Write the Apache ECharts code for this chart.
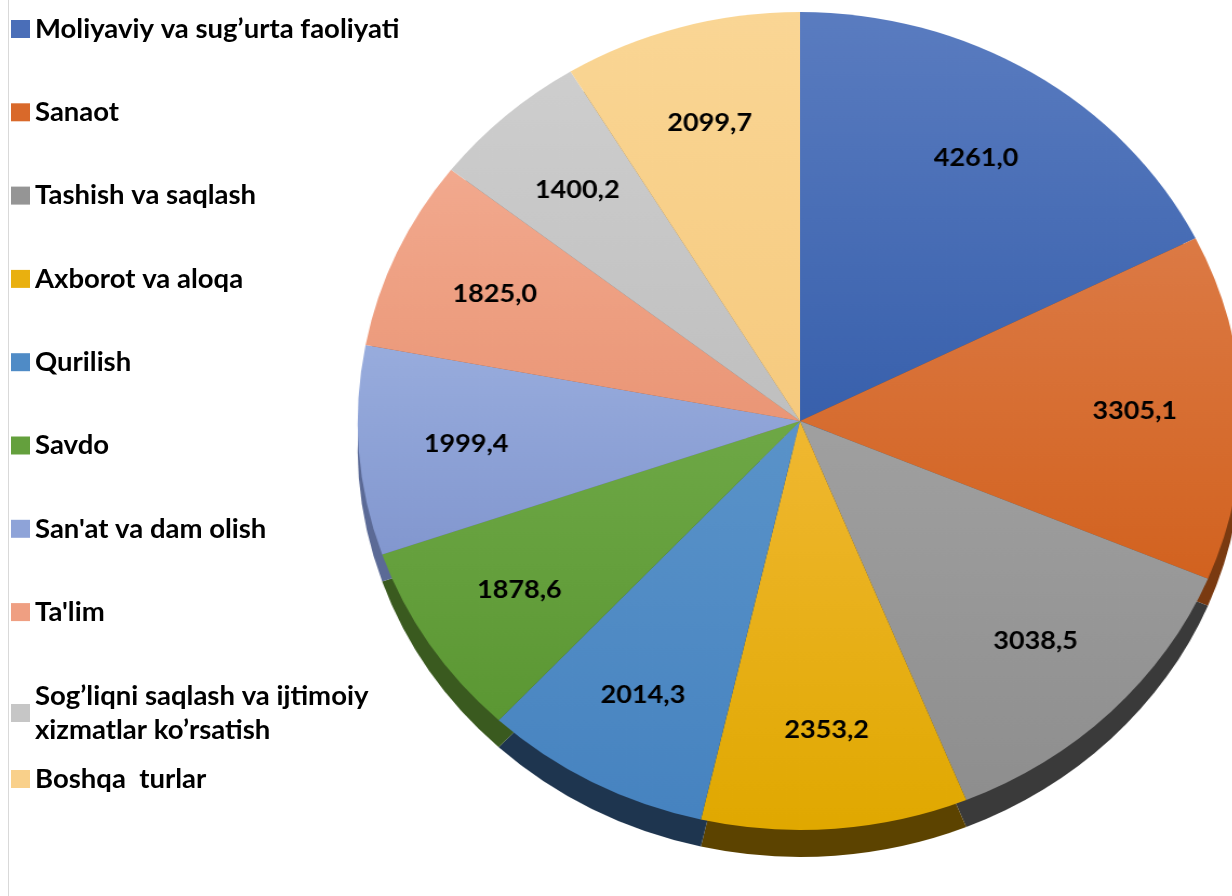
<!DOCTYPE html>
<html>
<head>
<meta charset="utf-8">
<script src="https://cdn.jsdelivr.net/npm/echarts@6/dist/echarts.min.js"></script>
<style>
  html, body { margin: 0; padding: 0; background: #fff; overflow: hidden; width: 1232px; height: 896px; }
  #pie { position: absolute; left: 0; top: 0; width: 1232px; height: 896px; transform: scaleX(1.081); transform-origin: 800px 0; }
  #leg { position: absolute; left: 0; top: 0; width: 440px; height: 896px; }
</style>
</head>
<body>
<div id="pie"></div>
<div id="leg"></div>
<script>
// ---- data ----
const categories = [
  "Moliyaviy va sug\u2019urta faoliyati",
  "Sanaot",
  "Tashish va saqlash",
  "Axborot va aloqa",
  "Qurilish",
  "Savdo",
  "San'at va dam olish",
  "Ta'lim",
  "Sog\u2019liqni saqlash va ijtimoiy\nxizmatlar ko\u2019rsatish",
  "Boshqa  turlar"
];
const values = [4261.0, 3305.1, 3038.5, 2353.2, 2014.3, 1878.6, 1999.4, 1825.0, 1400.2, 2099.7];

// ---- styles ----
const baseColors = ["#4a6eb8", "#d9692a", "#959595", "#e9b00f", "#4f8bc6", "#64a03d", "#8ea3d8", "#ef9f82", "#c6c6c6", "#f9d08a"];
const topColors  = ["#5a7cc0", "#dc7a45", "#a0a0a0", "#f0b832", "#5a93c9", "#6ea846", "#98acdd", "#f2a98e", "#cecece", "#fad695"];
const botColors  = ["#3860ac", "#d2621f", "#8e8e8e", "#e0a800", "#4683c0", "#5b9733", "#8297cf", "#ea9676", "#bfbfbf", "#f6ca7e"];
const sideColors = ["#22406a", "#7a3a10", "#3a3a3a", "#5c4300", "#1e354f", "#3a5a1f", "#5b6a96", "#8a5a48", "#707070", "#8f7648"];

const fontFamily = "Lato, 'Open Sans', sans-serif";

const CX = 800, CY = 421, R = 409, DEPTH = 27;

function fmt(v) { return v.toFixed(1).replace('.', ','); }

const pieChart = echarts.init(document.getElementById('pie'), null, { renderer: 'canvas' });
pieChart.setOption({
  animation: false,
  series: [
    {
      type: 'pie', silent: true, startAngle: 90, clockwise: true,
      center: [CX, CY + DEPTH], radius: [0, R],
      label: { show: false }, labelLine: { show: false },
      data: categories.map((c, i) => ({ name: c, value: values[i], itemStyle: { color: sideColors[i] } })),
      itemStyle: { borderWidth: 0 }
    },
    {
      type: 'pie', silent: true, startAngle: 90, clockwise: true,
      center: [CX, CY], radius: [0, R],
      label: { show: false }, labelLine: { show: false },
      data: categories.map((c, i) => ({
        name: c, value: values[i],
        itemStyle: {
          color: new echarts.graphic.LinearGradient(0, 0, 0, 1, [
            { offset: 0, color: topColors[i] },
            { offset: 1, color: botColors[i] }
          ])
        }
      })),
      itemStyle: { borderWidth: 0 }
    },
    {
      type: 'pie', silent: true, startAngle: 90, clockwise: true,
      center: [CX, CY], radius: [R * 0.5, R],
      labelLine: { show: false },
      itemStyle: { color: 'rgba(0,0,0,0)', borderWidth: 0 },
      label: {
        show: true, position: 'inside',
        formatter: p => fmt(p.value),
        color: '#000', fontFamily: fontFamily, fontWeight: 'bold', fontSize: 25,
        textBorderWidth: 0
      },
      data: categories.map((c, i) => ({ name: c, value: values[i] }))
    }
  ]
});

const legChart = echarts.init(document.getElementById('leg'), null, { renderer: 'canvas' });
const legText = { fontFamily: fontFamily, fontWeight: 'bold', fontSize: 27.5, color: '#000', lineHeight: 34 };
const legCommon = { orient: 'vertical', left: 11, padding: 0, itemWidth: 19, itemHeight: 18, icon: 'rect', selectedMode: false, textStyle: legText };
legChart.setOption({
  animation: false,
  graphic: [{ type: 'line', shape: { x1: 8.5, y1: 0, x2: 8.5, y2: 896 }, style: { stroke: '#d9d9d9', lineWidth: 1 } }],
  legend: [
    Object.assign({}, legCommon, { top: 12, itemGap: 49.3, data: categories.slice(0, 8) }),
    Object.assign({}, legCommon, { top: 662, data: [{ name: categories[8], textStyle: { padding: [34, 0, 0, 0] } }] }),
    Object.assign({}, legCommon, { top: 762, data: [categories[9]] })
  ],
  series: [{
    type: 'pie', radius: [0, 0], center: [-100, -100], silent: true,
    label: { show: false }, labelLine: { show: false },
    data: categories.map((c, i) => ({ name: c, value: values[i], itemStyle: { color: baseColors[i] } }))
  }]
});
</script>
</body>
</html>
